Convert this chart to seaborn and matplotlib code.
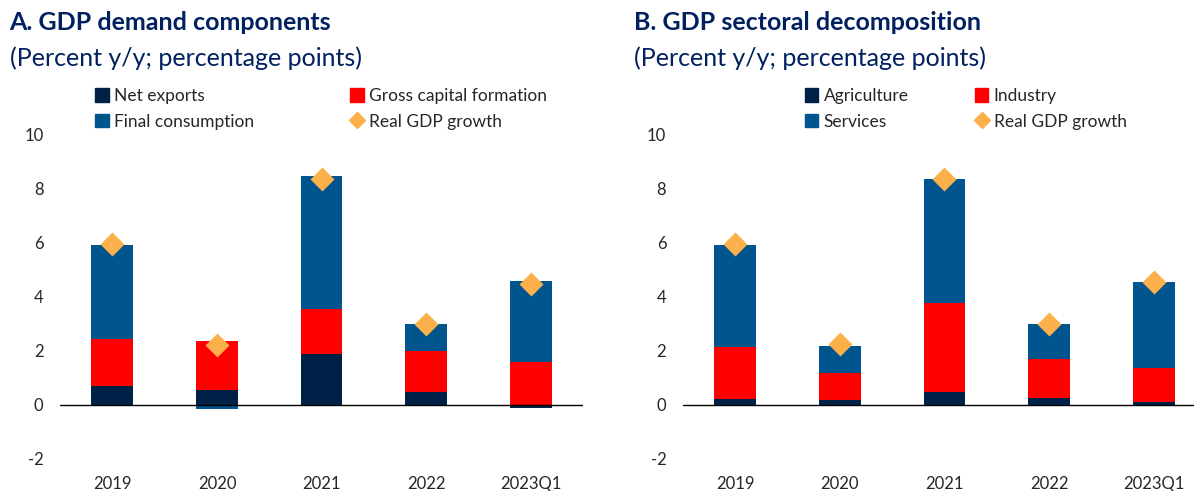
import numpy as np
import pandas as pd
from matplotlib import pyplot as plt
from matplotlib.patches import Patch
from matplotlib.lines import Line2D
import seaborn as sns

# data (percent y/y, percentage points)
periods = ["2019", "2020", "2021", "2022", "2023Q1"]

# panel A - demand components
net_exports = [0.72, 0.56, 1.88, 0.48, -0.10]
gross_capital = [1.74, 1.82, 1.69, 1.51, 1.59]
final_consumption = [3.48, -0.16, 4.91, 1.01, 2.99]
gdp_a = [5.95, 2.22, 8.38, 3.00, 4.49]

# panel B - sectoral decomposition
agriculture = [0.22, 0.20, 0.48, 0.27, 0.12]
industry = [1.94, 0.97, 3.30, 1.42, 1.26]
services = [3.78, 1.03, 4.59, 1.31, 3.16]
gdp_b = [5.95, 2.25, 8.38, 3.00, 4.57]

navy = "#002147"
red = "#FF0000"
blue = "#00558F"
orange = "#FBB04A"
title_col = "#002060"

sns.set_style("white")
plt.rcParams["font.family"] = ["Lato", "DejaVu Sans"]
plt.rcParams["axes.unicode_minus"] = False


def stacked(ax, series, colors, gdp):
    pos = np.zeros(len(periods))
    neg = np.zeros(len(periods))
    for vals, col in zip(series, colors):
        vals = np.array(vals)
        base = np.where(vals >= 0, pos, neg)
        sns.barplot(x=periods, y=vals, bottom=base, color=col, width=0.4,
                    saturation=1, errorbar=None, linewidth=0, ax=ax)
        pos += np.clip(vals, 0, None)
        neg += np.clip(vals, None, 0)
    sns.pointplot(x=periods, y=gdp, markers="D", linestyles="none", color=orange,
                  markersize=10, errorbar=None, ax=ax, zorder=5)
    ax.axhline(0, color="black", lw=1, zorder=1)
    ax.set_ylim(-2, 10)
    ax.set_xlim(-0.5, 4.5)
    ax.set_yticks(range(-2, 11, 2))
    ax.set_xlabel("")
    ax.set_ylabel("")
    sns.despine(ax=ax, left=True, bottom=True)
    ax.tick_params(length=0, labelsize=12)
    ax.tick_params(axis="y", pad=12)
    ax.tick_params(axis="x", pad=12)


fig = plt.figure(figsize=(11.94, 4.91), dpi=100)
ax1 = fig.add_axes([0.0503, 0.0652, 0.438, 0.66])
ax2 = fig.add_axes([0.572, 0.0652, 0.438, 0.66])

stacked(ax1, [net_exports, gross_capital, final_consumption], [navy, red, blue], gdp_a)
stacked(ax2, [agriculture, industry, services], [navy, red, blue], gdp_b)

# titles
for x, head in [(0.008, "A. GDP demand components"), (0.531, "B. GDP sectoral decomposition")]:
    fig.text(x, 0.978, head, fontsize=18, fontweight="bold", color=title_col, va="top")
    fig.text(x, 0.905, "(Percent y/y; percentage points)", fontsize=18,
             color=title_col, va="top")


def legend(ax, labels, x, spacing):
    handles = [Patch(color=navy), Patch(color=blue), Patch(color=red),
               Line2D([], [], marker="D", color=orange, linestyle="none", markersize=8)]
    ax.legend(handles, labels, ncol=2, loc="upper left", bbox_to_anchor=(x, 0.835),
              bbox_transform=fig.transFigure, frameon=False, fontsize=12.5,
              handlelength=0.8, handleheight=0.8, handletextpad=0.3,
              columnspacing=spacing, labelspacing=0.55, borderaxespad=0)


legend(ax1, ["Net exports", "Final consumption", "Gross capital formation", "Real GDP growth"],
       0.074, 5.5)
legend(ax2, ["Agriculture", "Services", "Industry", "Real GDP growth"], 0.668, 3.8)

fig.savefig("out.png", dpi=100)
